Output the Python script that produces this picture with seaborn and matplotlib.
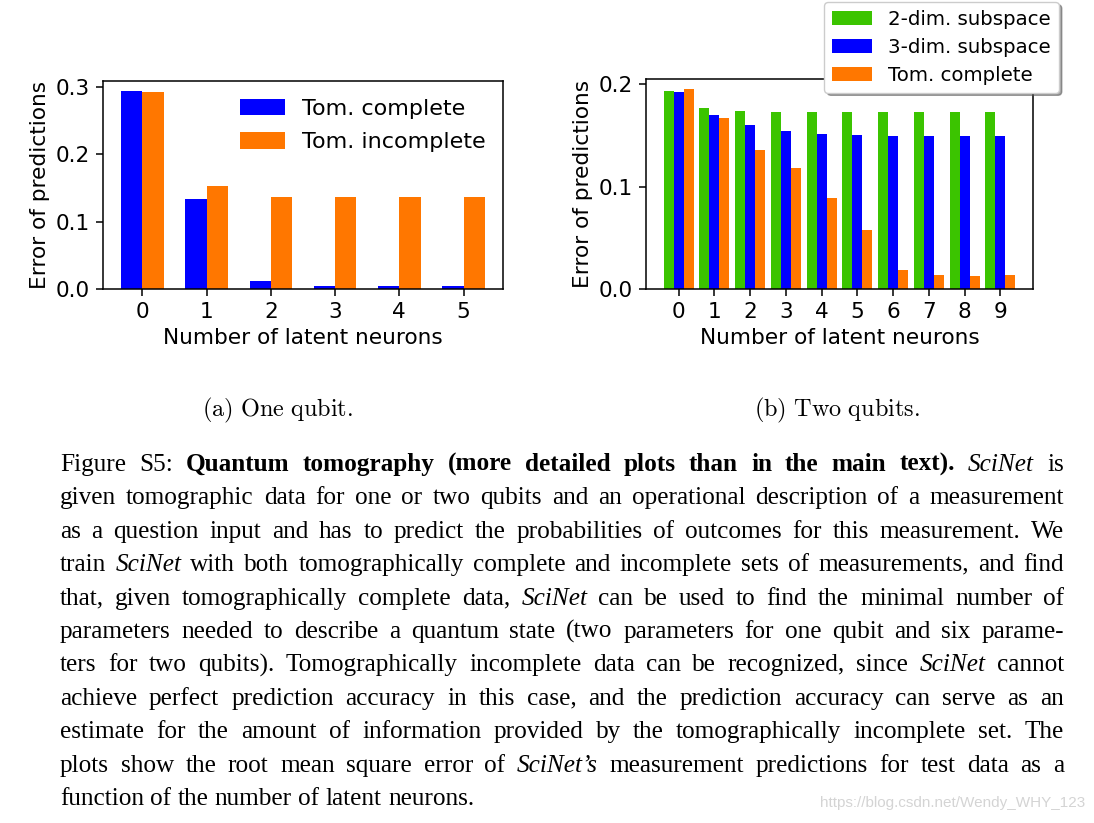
import matplotlib
matplotlib.use("Agg")
import matplotlib.pyplot as plt
import matplotlib.transforms as mtransforms
import numpy as np
import pandas as pd
import seaborn as sns

# ---------------- data ----------------
neurons_a = [0, 1, 2, 3, 4, 5]
tom_complete_a = [0.294, 0.134, 0.012, 0.004, 0.004, 0.004]
tom_incomplete_a = [0.293, 0.153, 0.137, 0.137, 0.137, 0.137]
labels_a = ["Tom. complete", "Tom. incomplete"]

neurons_b = [0, 1, 2, 3, 4, 5, 6, 7, 8, 9]
dim2_b = [0.193, 0.177, 0.174, 0.173, 0.173, 0.173, 0.173, 0.173, 0.173, 0.173]
dim3_b = [0.192, 0.170, 0.160, 0.154, 0.151, 0.150, 0.149, 0.149, 0.149, 0.149]
tomc_b = [0.195, 0.167, 0.136, 0.118, 0.089, 0.058, 0.019, 0.014, 0.013, 0.014]
labels_b = ["2-dim. subspace", "3-dim. subspace", "Tom. complete"]

xlabel = "Number of latent neurons"
ylabel = "Error of predictions"
sub_a = r"$\mathrm{(a)\ One\ qubit.}$"
sub_b = r"$\mathrm{(b)\ Two\ qubits.}$"

caption_lines = [
    [("Figure S5:", "n"), ("Quantum tomography (more detailed plots than in the main text).", "b"),
     ("SciNet", "i"), ("is", "n")],
    [("given tomographic data for one or two qubits and an operational description of a measurement", "n")],
    [("as a question input and has to predict the probabilities of outcomes for this measurement. We", "n")],
    [("train", "n"), ("SciNet", "i"), ("with both tomographically complete and incomplete sets of measurements, and find", "n")],
    [("that, given tomographically complete data,", "n"), ("SciNet", "i"), ("can be used to find the minimal number of", "n")],
    [("parameters needed to describe a quantum state (two parameters for one qubit and six parame-", "n")],
    [("ters for two qubits). Tomographically incomplete data can be recognized, since", "n"), ("SciNet", "i"), ("cannot", "n")],
    [("achieve perfect prediction accuracy in this case, and the prediction accuracy can serve as an", "n")],
    [("estimate for the amount of information provided by the tomographically incomplete set. The", "n")],
    [("plots show the root mean square error of", "n"), ("SciNet\u2019s", "i"), ("measurement predictions for test data as a", "n")],
    [("function of the number of latent neurons.", "n")],
]
watermark = "https://blog.csdn.net/Wendy_WHY_123"

BLUE = "#0000ff"
ORANGE = "#ff7700"
GREEN = "#3bc400"

W, H = 1094, 823
FS = 15.6

sns.set_theme(style="ticks", rc={
    "axes.linewidth": 1.1,
    "axes.edgecolor": "black",
    "xtick.major.width": 1.1,
    "ytick.major.width": 1.1,
    "xtick.major.size": 5,
    "ytick.major.size": 5,
    "xtick.major.pad": 4.5,
    "ytick.major.pad": 4.5,
    "xtick.color": "black",
    "ytick.color": "black",
    "text.color": "black",
    "axes.labelcolor": "black",
    "font.size": FS,
    "axes.labelsize": FS,
    "xtick.labelsize": FS,
    "ytick.labelsize": FS,
    "legend.fontsize": FS,
})
plt.rcParams["font.family"] = ["DejaVu Sans"]
plt.rcParams["mathtext.fontset"] = "cm"

fig = plt.figure(figsize=(W / 100, H / 100), dpi=100, facecolor="white")


def frac_rect(left, top, right, bottom):
    return [left / W, 1 - bottom / H, (right - left) / W, (bottom - top) / H]


ax1 = fig.add_axes(frac_rect(103, 81, 503, 289))
ax2 = fig.add_axes(frac_rect(646, 79, 1033, 289))

# ---- panel (a)
df_a = pd.DataFrame({
    "n": neurons_a * 2,
    "err": tom_complete_a + tom_incomplete_a,
    "series": [labels_a[0]] * len(neurons_a) + [labels_a[1]] * len(neurons_a),
})
sns.barplot(data=df_a, x="n", y="err", hue="series", hue_order=labels_a,
            palette=[BLUE, ORANGE], width=0.66, saturation=1, linewidth=0,
            errorbar=None, ax=ax1)
ax1.set_xlim(-0.613, 5.613)
ax1.set_ylim(0, 0.309)
ax1.set_yticks([0.0, 0.1, 0.2, 0.3])
ax1.set_xlabel(xlabel)
ax1.set_ylabel(ylabel)
sns.move_legend(ax1, "upper right", title=None, frameon=False,
                handlelength=2.0, handleheight=0.75, handletextpad=0.75,
                labelspacing=0.6, fontsize=16, borderaxespad=0.4)

# ---- panel (b)
df_b = pd.DataFrame({
    "n": neurons_b * 3,
    "err": dim2_b + dim3_b + tomc_b,
    "series": [labels_b[0]] * 10 + [labels_b[1]] * 10 + [labels_b[2]] * 10,
})
sns.barplot(data=df_b, x="n", y="err", hue="series", hue_order=labels_b,
            palette=[GREEN, BLUE, ORANGE], width=0.84, saturation=1, linewidth=0,
            errorbar=None, ax=ax2)
ax2.set_xlim(-0.91, 9.91)
ax2.set_ylim(0, 0.2049)
ax2.set_yticks([0.0, 0.1, 0.2])
ax2.set_xlabel(xlabel)
ax2.set_ylabel(ylabel)
sns.move_legend(ax2, "upper right", title=None, frameon=True, shadow=True,
                fancybox=True, framealpha=1, edgecolor="#cccccc",
                bbox_to_anchor=(1059 / W, 1 - 2 / H), bbox_transform=fig.transFigure,
                borderaxespad=0, handlelength=2.0, handleheight=0.7,
                handletextpad=0.85, labelspacing=0.45, fontsize=14.2,
                borderpad=0.4)

for ax in (ax1, ax2):
    for s in ax.spines.values():
        s.set_visible(True)
        s.set_linewidth(1.1)
        s.set_color("black")

# ---------------- captions ----------------
SERIF = ["Liberation Serif", "DejaVu Serif"]
CAP_FS = 18.2
ident = mtransforms.IdentityTransform()

fig.text(277 / W, 1 - 410 / H, sub_a, ha="center", va="center", fontsize=17.5)
fig.text(837 / W, 1 - 410 / H, sub_b, ha="center", va="center", fontsize=17.5)

renderer = fig.canvas.get_renderer()
X_LEFT, X_RIGHT = 60, 1064
BASE0, LINE_STEP = 471, 33.4


def style_kw(st):
    if st == "b":
        return dict(fontweight="bold")
    if st == "i":
        return dict(fontstyle="italic")
    return {}


for li, segs in enumerate(caption_lines):
    words = []
    for txt, st in segs:
        for w in txt.split():
            words.append((w, st))
    y = H - (BASE0 + li * LINE_STEP)
    objs = []
    total = 0.0
    for w, st in words:
        t = fig.text(0, y, w, transform=ident, family=SERIF, fontsize=CAP_FS,
                     va="baseline", ha="left", **style_kw(st))
        wd = t.get_window_extent(renderer).width
        objs.append((t, wd))
        total += wd
    gaps = len(objs) - 1
    if li < len(caption_lines) - 1 and gaps > 0:
        sp = (X_RIGHT - X_LEFT - total) / gaps
    else:
        sp = CAP_FS * 100 / 72 * 0.25
    x = X_LEFT
    for t, wd in objs:
        t.set_x(x)
        x += wd + sp

fig.text(1085 / W, 1 - 803 / H, watermark, ha="right", va="center",
         family=["Liberation Sans", "DejaVu Sans"], fontsize=11, color="#d4d4d4")

fig.savefig("out.png", dpi=100, facecolor="white")
